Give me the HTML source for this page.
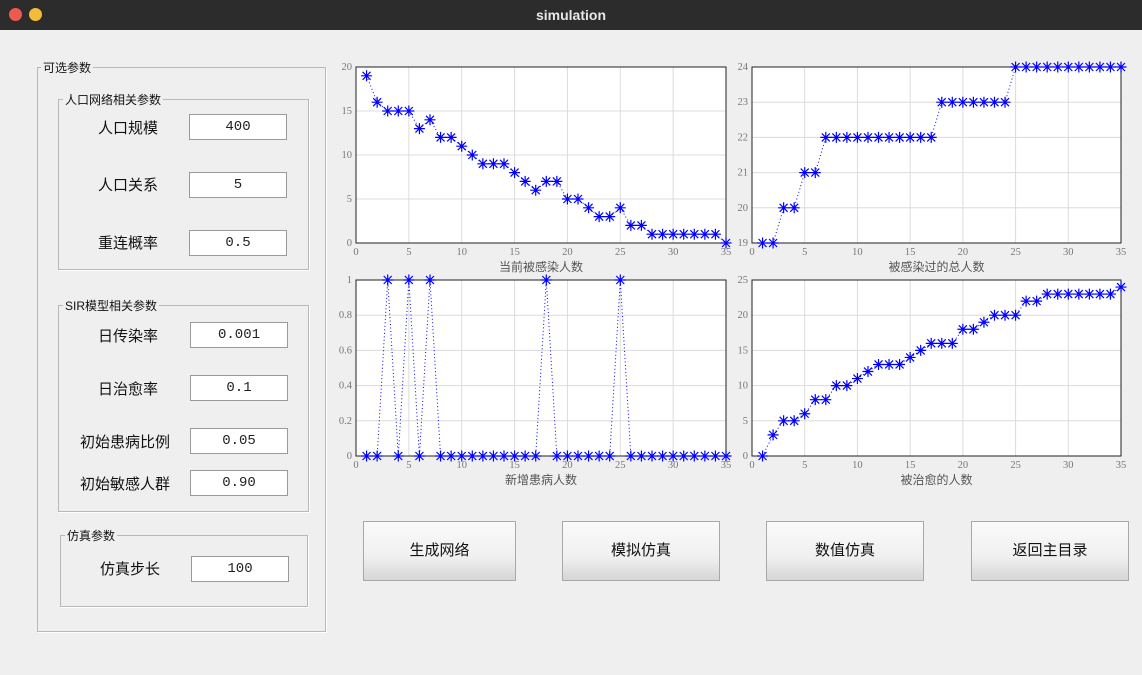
<!DOCTYPE html>
<html><head><meta charset="utf-8">
<style>
body{margin:0;width:1142px;height:675px;background:#efefef;font-family:"Liberation Sans","Noto Sans CJK SC",sans-serif;position:relative;overflow:hidden}
.title{position:absolute;left:0;top:0;width:1142px;height:30px;background:#2c2c2c;color:#e8e8e8;font-weight:bold;font-size:14px;text-align:center;line-height:31px}
.dot{position:absolute;top:8px;width:13px;height:13px;border-radius:50%}
.fs{position:absolute;border:1px solid #b8b8b8;box-shadow:1px 1px 0 #fff}
.leg{position:absolute;background:#efefef;font-size:12px;padding:0 2px;color:#111}
.lbl{position:absolute;font-size:15px;color:#111}
.inp{position:absolute;width:98px;height:26px;background:#fff;border:1px solid #9a9a9a;box-sizing:border-box;font-size:14px;text-align:center;line-height:24px;color:#222;font-family:"Liberation Mono","Noto Sans CJK SC",monospace}
.btn{position:absolute;top:521px;height:60px;background:linear-gradient(#fafafa,#f0f0f0 60%,#d6d6d6);border:1px solid #a8a8a8;box-sizing:border-box;font-size:15px;text-align:center;line-height:58px;color:#111}
</style></head><body>
<div class="title">simulation</div>
<div class="dot" style="left:9px;background:#ee5a52"></div>
<div class="dot" style="left:29px;background:#f3bb38"></div>

<div class="fs" style="left:37px;top:67px;width:287px;height:563px"></div>
<div class="leg" style="left:41px;top:59px">可选参数</div>
<div class="fs" style="left:58px;top:99px;width:249px;height:169px"></div>
<div class="leg" style="left:63px;top:91px">人口网络相关参数</div>
<div class="lbl" style="left:98px;top:117px">人口规模</div>
<div class="inp" style="left:189px;top:114px">400</div>
<div class="lbl" style="left:98px;top:174px">人口关系</div>
<div class="inp" style="left:189px;top:172px">5</div>
<div class="lbl" style="left:98px;top:232px">重连概率</div>
<div class="inp" style="left:189px;top:230px">0.5</div>

<div class="fs" style="left:58px;top:305px;width:249px;height:205px"></div>
<div class="leg" style="left:63px;top:297px">SIR模型相关参数</div>
<div class="lbl" style="left:98px;top:325px">日传染率</div>
<div class="inp" style="left:190px;top:322px">0.001</div>
<div class="lbl" style="left:98px;top:378px">日治愈率</div>
<div class="inp" style="left:190px;top:375px">0.1</div>
<div class="lbl" style="left:80px;top:431px">初始患病比例</div>
<div class="inp" style="left:190px;top:428px">0.05</div>
<div class="lbl" style="left:80px;top:473px">初始敏感人群</div>
<div class="inp" style="left:190px;top:470px">0.90</div>

<div class="fs" style="left:60px;top:535px;width:246px;height:70px"></div>
<div class="leg" style="left:65px;top:527px">仿真参数</div>
<div class="lbl" style="left:100px;top:558px">仿真步长</div>
<div class="inp" style="left:191px;top:556px">100</div>

<div class="btn" style="left:363px;width:153px">生成网络</div>
<div class="btn" style="left:562px;width:158px">模拟仿真</div>
<div class="btn" style="left:766px;width:158px">数值仿真</div>
<div class="btn" style="left:971px;width:158px">返回主目录</div>

<svg id="svg" width="1142" height="675" style="position:absolute;left:0;top:0"></svg>
<script>
const xs=[];for(let i=1;i<=35;i++)xs.push(i);
const infectedNow=[19,16,15,15,15,13,14,12,12,11,10,9,9,9,8,7,6,7,7,5,5,4,3,3,4,2,2,1,1,1,1,1,1,1,0];
const totalInfected=[19,19,20,20,21,21,22,22,22,22,22,22,22,22,22,22,22,23,23,23,23,23,23,23,24,24,24,24,24,24,24,24,24,24,24];
const newInfected=[0,0,1,0,1,0,1,0,0,0,0,0,0,0,0,0,0,1,0,0,0,0,0,0,1,0,0,0,0,0,0,0,0,0,0];
const recovered=[0,3,5,5,6,8,8,10,10,11,12,13,13,13,14,15,16,16,16,18,18,19,20,20,20,22,22,23,23,23,23,23,23,23,24];
const xTicks=[0,5,10,15,20,25,30,35];
const yTicks1=[0,5,10,15,20],yTicks2=[19,20,21,22,23,24],yTicks3=[0,0.2,0.4,0.6,0.8,1],yTicks4=[0,5,10,15,20,25];
const charts=[
 {n:'infected-now',x0:356,x1:726,y0:67,y1:243,ymin:0,ymax:20,yt:yTicks1,d:infectedNow,t:'当前被感染人数'},
 {n:'total-infected',x0:752,x1:1121,y0:67,y1:243,ymin:19,ymax:24,yt:yTicks2,d:totalInfected,t:'被感染过的总人数'},
 {n:'new-infected',x0:356,x1:726,y0:280,y1:456,ymin:0,ymax:1,yt:yTicks3,d:newInfected,t:'新增患病人数'},
 {n:'recovered',x0:752,x1:1121,y0:280,y1:456,ymin:0,ymax:25,yt:yTicks4,d:recovered,t:'被治愈的人数'}];
const svg=document.getElementById('svg');const NS='http://www.w3.org/2000/svg';
function mk(tag,a,p){const e=document.createElementNS(NS,tag);for(const k in a)e.setAttribute(k,a[k]);(p||svg).appendChild(e);return e;}
charts.forEach(c=>{
 const g=mk('g',{});
 
 
 const X=v=>c.x0+(v-0)/35*(c.x1-c.x0);
 const Y=v=>c.y1-(v-c.ymin)/(c.ymax-c.ymin)*(c.y1-c.y0);
 mk('rect',{x:c.x0,y:c.y0,width:c.x1-c.x0,height:c.y1-c.y0,fill:'#fff'},g);
 xTicks.forEach(v=>{mk('line',{x1:X(v),x2:X(v),y1:c.y0,y2:c.y1,stroke:'#dcdcdc'},g);
  const t=mk('text',{x:X(v),y:c.y1+12,'text-anchor':'middle','font-size':10.5,fill:'#777','font-family':'Liberation Serif,serif'},g);t.textContent=v;
  
  });
 c.yt.forEach(v=>{mk('line',{x1:c.x0,x2:c.x1,y1:Y(v),y2:Y(v),stroke:'#dcdcdc'},g);
  const t=mk('text',{x:c.x0-4,y:Y(v)+3,'text-anchor':'end','font-size':10.5,fill:'#777','font-family':'Liberation Serif,serif'},g);t.textContent=v;
  
  });
 mk('rect',{x:c.x0,y:c.y0,width:c.x1-c.x0,height:c.y1-c.y0,fill:'none',stroke:'#222'},g);
 const pl=mk('polyline',{points:xs.map((x,i)=>X(x)+','+Y(c.d[i])).join(' '),fill:'none',stroke:'#0000ff','stroke-dasharray':'1,2.5'},g);
 
 
 xs.forEach((x,i)=>{const px=X(x),py=Y(c.d[i]);
  const s=mk('path',{d:`M${px-5.5},${py}H${px+5.5}M${px},${py-5.5}V${py+5.5}M${px-4},${py-4}L${px+4},${py+4}M${px-4},${py+4}L${px+4},${py-4}`,stroke:'#0000ff','stroke-width':1.2},g);
  
  });
 const tt=mk('text',{x:(c.x0+c.x1)/2,y:c.y1+28,'text-anchor':'middle','font-size':12,fill:'#555','font-family':'Liberation Sans,Noto Sans CJK SC,sans-serif'},g);tt.textContent=c.t;
 
 
});
</script>
</body></html>
